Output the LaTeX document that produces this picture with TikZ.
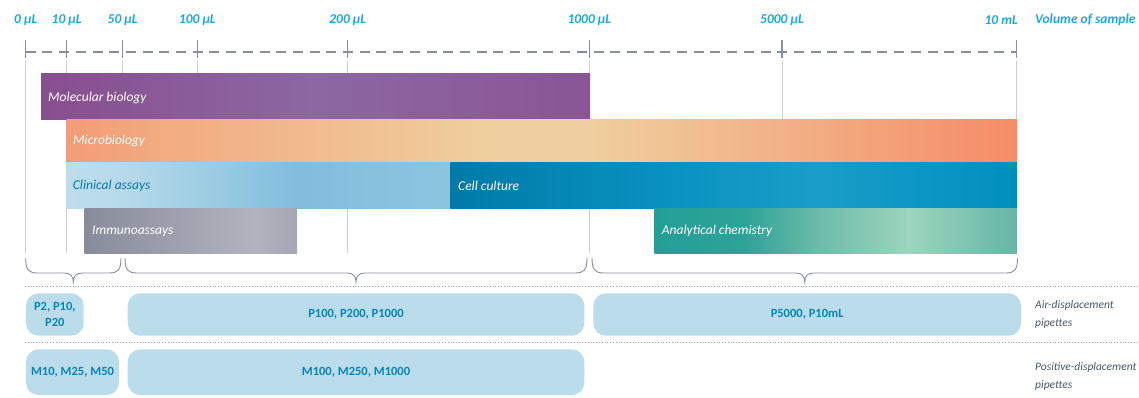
\documentclass[tikz,border=0pt]{standalone}
\usepackage{fontspec}
\setmainfont{Carlito}
% colour ramps for the application bars (stops between 25bp and 75bp)
\definecolor{molA}{HTML}{884E90}\definecolor{molB}{HTML}{8C68A0}\definecolor{molC}{HTML}{8A5595}
\definecolor{micA}{HTML}{F39C78}\definecolor{micB}{HTML}{F2AB80}\definecolor{micC}{HTML}{EFCF9F}\definecolor{micD}{HTML}{F58C67}
\definecolor{cliA}{HTML}{BDDDEC}\definecolor{cliB}{HTML}{B6DAEA}\definecolor{cliC}{HTML}{81BEDC}\definecolor{cliD}{HTML}{8CC4DF}
\definecolor{celA}{HTML}{007AA8}\definecolor{celB}{HTML}{0A93C0}\definecolor{celC}{HTML}{1A9DC8}\definecolor{celD}{HTML}{0090BE}
\definecolor{immA}{HTML}{888B9A}\definecolor{immB}{HTML}{B2B3BE}\definecolor{immC}{HTML}{A5A6B2}
\definecolor{anaA}{HTML}{229F95}\definecolor{anaB}{HTML}{2DA398}\definecolor{anaC}{HTML}{6DBBAA}\definecolor{anaD}{HTML}{9DD5BD}\definecolor{anaE}{HTML}{65B5A6}
\pgfdeclarehorizontalshading{molshade}{100bp}{color(0bp)=(molA); color(25bp)=(molA); color(50bp)=(molB); color(75bp)=(molC); color(100bp)=(molC)}
\pgfdeclarehorizontalshading{micshade}{100bp}{color(0bp)=(micA); color(25bp)=(micA); color(30bp)=(micB); color(47.5bp)=(micC); color(52.5bp)=(micC); color(75bp)=(micD); color(100bp)=(micD)}
\pgfdeclarehorizontalshading{clishade}{100bp}{color(0bp)=(cliA); color(25bp)=(cliA); color(32.5bp)=(cliB); color(55bp)=(cliC); color(75bp)=(cliD); color(100bp)=(cliD)}
\pgfdeclarehorizontalshading{celshade}{100bp}{color(0bp)=(celA); color(25bp)=(celA); color(45bp)=(celB); color(57.5bp)=(celC); color(75bp)=(celD); color(100bp)=(celD)}
\pgfdeclarehorizontalshading{immshade}{100bp}{color(0bp)=(immA); color(25bp)=(immA); color(65bp)=(immB); color(75bp)=(immC); color(100bp)=(immC)}
\pgfdeclarehorizontalshading{anashade}{100bp}{color(0bp)=(anaA); color(25bp)=(anaA); color(37.5bp)=(anaB); color(47.5bp)=(anaC); color(60bp)=(anaD); color(75bp)=(anaE); color(100bp)=(anaE)}
\definecolor{axiscol}{HTML}{8B8E9C}
\definecolor{guidecol}{HTML}{CDCDD2}
\definecolor{scalecol}{HTML}{18A9E1}
\definecolor{pillfill}{HTML}{BADCEB}
\definecolor{pilltext}{HTML}{0A84B5}
\definecolor{sidecol}{HTML}{4E5963}
\definecolor{clitext}{HTML}{0A78AB}
\begin{document}
\begin{tikzpicture}[x=1pt,y=-1pt,
  scalelabel/.style={font=\fontsize{13.5}{16}\selectfont\bfseries\itshape, text=scalecol, inner sep=0pt},
  axisline/.style={draw=axiscol, line width=1.1pt, dash pattern=on 10pt off 6.7pt},
  tickmark/.style={draw=axiscol, line width=1.1pt},
  guide/.style={draw=guidecol, line width=0.9pt},
  barlabel/.style={font=\fontsize{13.5}{15}\selectfont\itshape, text=white, anchor=west, inner sep=0pt},
  bracket/.style={draw=axiscol, line width=0.9pt},
  rowsep/.style={draw=axiscol!80, line width=0.8pt, dash pattern=on 0.9pt off 1.9pt},
  pill/.style={fill=pillfill, rounded corners=12.5pt, inner sep=0pt, text=pilltext,
    font=\fontsize{12.5}{16}\selectfont\bfseries, align=center},
  sidelabel/.style={font=\fontsize{11.5}{18}\selectfont\itshape, text=sidecol, anchor=west, align=left, inner sep=0pt}
]
\useasboundingbox (0,0) rectangle (1139,398);

% scale ticks, their labels and the faint guide lines
\foreach \x/\lab/\nm in {25.7/0 µL/t0, 66.7/10 µL/t10, 122.7/50 µL/t50, 197.3/100 µL/t100,
    347.7/200 µL/t200, 589.3/1000 µL/t1000, 782/5000 µL/t5000}{
  \node[scalelabel] (l\nm) at (\x,20) {\lab};
  \coordinate (\nm) at (\x,52);
  \draw[guide] (\x,61) -- (\x,253);
  \draw[tickmark] (\x,40) -- (\x,58);
}
\node[scalelabel, anchor=east] (lt10m) at (1018,20) {10 mL};
\coordinate (t10m) at (1016.3,52);
\draw[guide] (1016.3,61) -- (1016.3,120);
\draw[tickmark] (1016.3,40) -- (1016.3,58);
\node[scalelabel, anchor=west] (lvol) at (1035,20) {Volume of sample};
\draw[axisline] (t0) -- (t10m);

% application bars
\shade[shading=molshade] (41,74) rectangle (590,120);
\node[barlabel] (mol) at (48,97.5) {Molecular biology};
\shade[shading=micshade] (66.7,120) rectangle (1017,162.5);
\node[barlabel] (mic) at (73,141) {Microbiology};
\shade[shading=clishade] (66.7,162.5) rectangle (451,208.3);
\node[barlabel, text=clitext] (cli) at (72.7,185.5) {Clinical assays};
\shade[shading=celshade] (450.7,162.5) rectangle (1017,208.3);
\node[barlabel] (cel) at (458,185.5) {Cell culture};
\shade[shading=immshade] (84.7,208.3) rectangle (297,253.3);
\node[barlabel] (imm) at (92,231) {Immunoassays};
\shade[shading=anashade] (654.7,208.3) rectangle (1017,253.3);
\node[barlabel] (ana) at (661.7,231) {Analytical chemistry};

% braces grouping the volume ranges
\foreach \a/\b in {25.7/121, 125/587, 592/1017.5}{
  \pgfmathsetmacro{\m}{(\a+\b)/2}
  \draw[bracket] (\a,258) .. controls (\a,270) and (\a+3,273) .. (\a+12,273)
    -- (\m-9,273) .. controls (\m-3,273) and (\m,276) .. (\m,282)
    .. controls (\m,276) and (\m+3,273) .. (\m+9,273)
    -- (\b-12,273) .. controls (\b-3,273) and (\b,270) .. (\b,258);
}

% row separators
\draw[rowsep] (25,286.7) -- (1139,286.7);
\draw[rowsep] (25,342.3) -- (1139,342.3);

% pipette ranges
\node[pill, minimum width=57.7pt, minimum height=42.4pt] (p2) at (54.85,314.5) {P2, P10,\\P20};
\node[pill, minimum width=456.6pt, minimum height=42.4pt] (p100) at (356,314.5) {P100, P200, P1000};
\node[pill, minimum width=427.7pt, minimum height=42.4pt] (p5000) at (807.15,314.5) {P5000, P10mL};
\node[pill, minimum width=93pt, minimum height=45.7pt] (m10) at (72.5,372.2) {M10, M25, M50};
\node[pill, minimum width=456.6pt, minimum height=45.7pt] (m100) at (356,372.2) {M100, M250, M1000};

\node[sidelabel] (air) at (1035,314) {Air-displacement\\pipettes};
\node[sidelabel] (pos) at (1035,376) {Positive-displacement\\pipettes};
\end{tikzpicture}
\end{document}
